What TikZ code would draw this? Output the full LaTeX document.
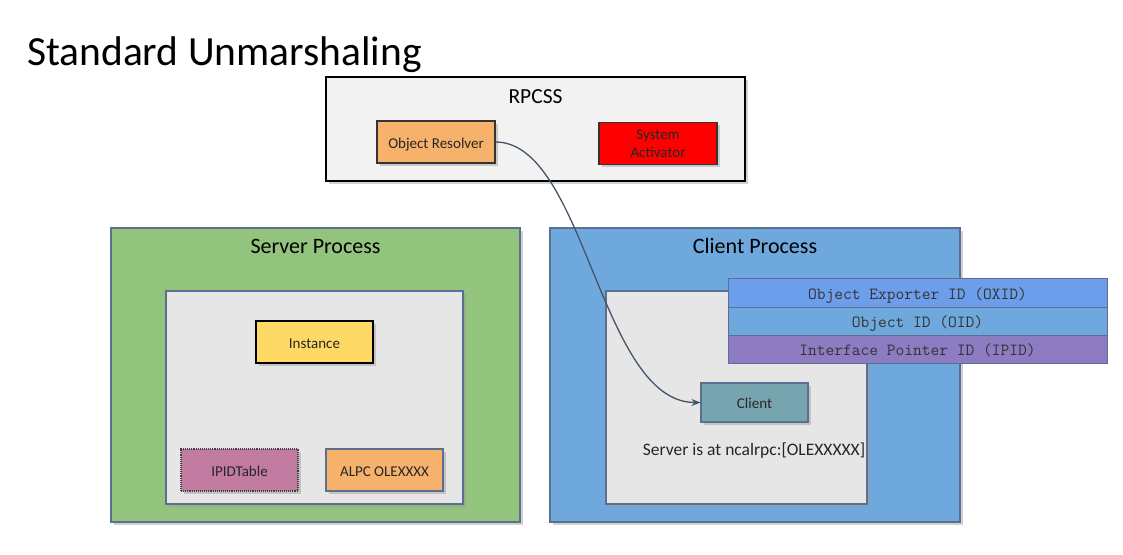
\documentclass[tikz,border=0pt]{standalone}
\usepackage{fontspec}
\setmainfont{Carlito}
\usetikzlibrary{shadows,arrows.meta}
\definecolor{cgreen}{HTML}{93C47D}
\definecolor{cblue}{HTML}{6FA8DC}
\definecolor{ccorn}{HTML}{6D9EEB}
\definecolor{cpurple}{HTML}{8E7CC3}
\definecolor{cyellow}{HTML}{FFD966}
\definecolor{corange}{HTML}{F6B26B}
\definecolor{cmagenta}{HTML}{C27BA0}
\definecolor{ccyan}{HTML}{76A5AF}
\definecolor{cslate}{HTML}{5B7090}
\definecolor{carrow}{HTML}{44546A}
\definecolor{cinner}{HTML}{E6E6E6}
\definecolor{crpc}{HTML}{F2F2F2}
\newcommand{\lbl}[2][6pt]{\raisebox{-#1}[0pt][0pt]{#2}}
\begin{document}
\begin{tikzpicture}[x=1pt,y=-1pt,
  shad/.style={drop shadow={shadow xshift=2.5pt,shadow yshift=-2.5pt,fill=black!40,opacity=.45}},
  box/.style={rectangle,inner sep=0pt,line width=1.1pt,shad,font=\fontsize{15}{18}\selectfont,text=black!85},
  rowbox/.style={rectangle,inner sep=0pt,line width=1pt,draw=cslate,minimum width=379pt,font=\ttfamily\fontsize{17}{19}\selectfont,text=black!80},
  ttl/.style={inner sep=0pt,font=\fontsize{22}{24}\selectfont}
]
\useasboundingbox (0,0) rectangle (1123,554);
% title
\node[anchor=base west,inner sep=0pt,font=\fontsize{41.5}{46}\selectfont] (title) at (27,65) {Standard Unmarshaling};
% RPCSS
\node[box,draw=black,line width=2pt,fill=crpc,minimum width=419pt,minimum height=104pt] (rpcss) at (535.5,129) {};
\node[ttl,font=\fontsize{21.5}{23}\selectfont] (rpcsst) at (535.5,97) {RPCSS};
\node[box,draw=black!80,fill=corange,minimum width=118pt,minimum height=42pt] (resolver) at (436,142) {\lbl{Object Resolver}};
\node[box,draw=black!80,fill=red,minimum width=118pt,minimum height=42pt,align=center,font=\fontsize{15}{18}\selectfont] (activator) at (658,143.5) {System\\Activator};
% server process
\node[box,draw=cslate,fill=cgreen,minimum width=409pt,minimum height=294pt] (server) at (315.5,375) {};
\node[ttl] (servert) at (315.5,246) {Server Process};
\node[box,draw=cslate,fill=cinner,minimum width=297pt,minimum height=213pt,drop shadow={opacity=0}] (sinner) at (314.5,397.5) {};
\node[box,draw=black,fill=cyellow,minimum width=117pt,minimum height=42pt] (instance) at (314.5,342) {\lbl{Instance}};
\node[box,draw=black!75,densely dotted,fill=cmagenta,minimum width=117pt,minimum height=42pt] (ipid) at (239.5,470) {\lbl{IPIDTable}};
\node[box,draw=cslate,fill=corange,minimum width=117pt,minimum height=42pt] (alpc) at (384.5,470) {\lbl{ALPC OLEXXXX}};
% client process
\node[box,draw=cslate,fill=cblue,minimum width=410pt,minimum height=294pt] (clientp) at (755,375) {};
\node[ttl] (clientt) at (755,246) {Client Process};
\node[box,draw=cslate,fill=cinner,minimum width=261pt,minimum height=213pt,drop shadow={opacity=0}] (cinnerbox) at (736.5,397.5) {};
\node[rowbox,fill=ccorn,minimum height=29pt] (oxid) at (917.5,292.5) {\lbl[6.5pt]{Object Exporter ID (OXID)}};
\node[rowbox,fill=cblue,minimum height=28pt] (oid) at (917.5,321) {\lbl[6.5pt]{Object ID (OID)}};
\node[rowbox,fill=cpurple,minimum height=28pt] (ipidrow) at (917.5,349) {\lbl[6.5pt]{Interface Pointer ID (IPID)}};
\node[box,draw=cslate,fill=ccyan,minimum width=107pt,minimum height=39pt] (client) at (754.5,402.5) {\lbl{Client}};
\node[inner sep=0pt,font=\fontsize{17.5}{20}\selectfont,text=black!85] (srvat) at (754,451) {Server is at ncalrpc:[OLEXXXXX]};
% arrow
\draw[carrow,line width=1.3pt,-{Stealth[length=9pt,width=7pt]}] (resolver.east) .. controls (585,142) and (600,402.5) .. (client.west);
\end{tikzpicture}
\end{document}
